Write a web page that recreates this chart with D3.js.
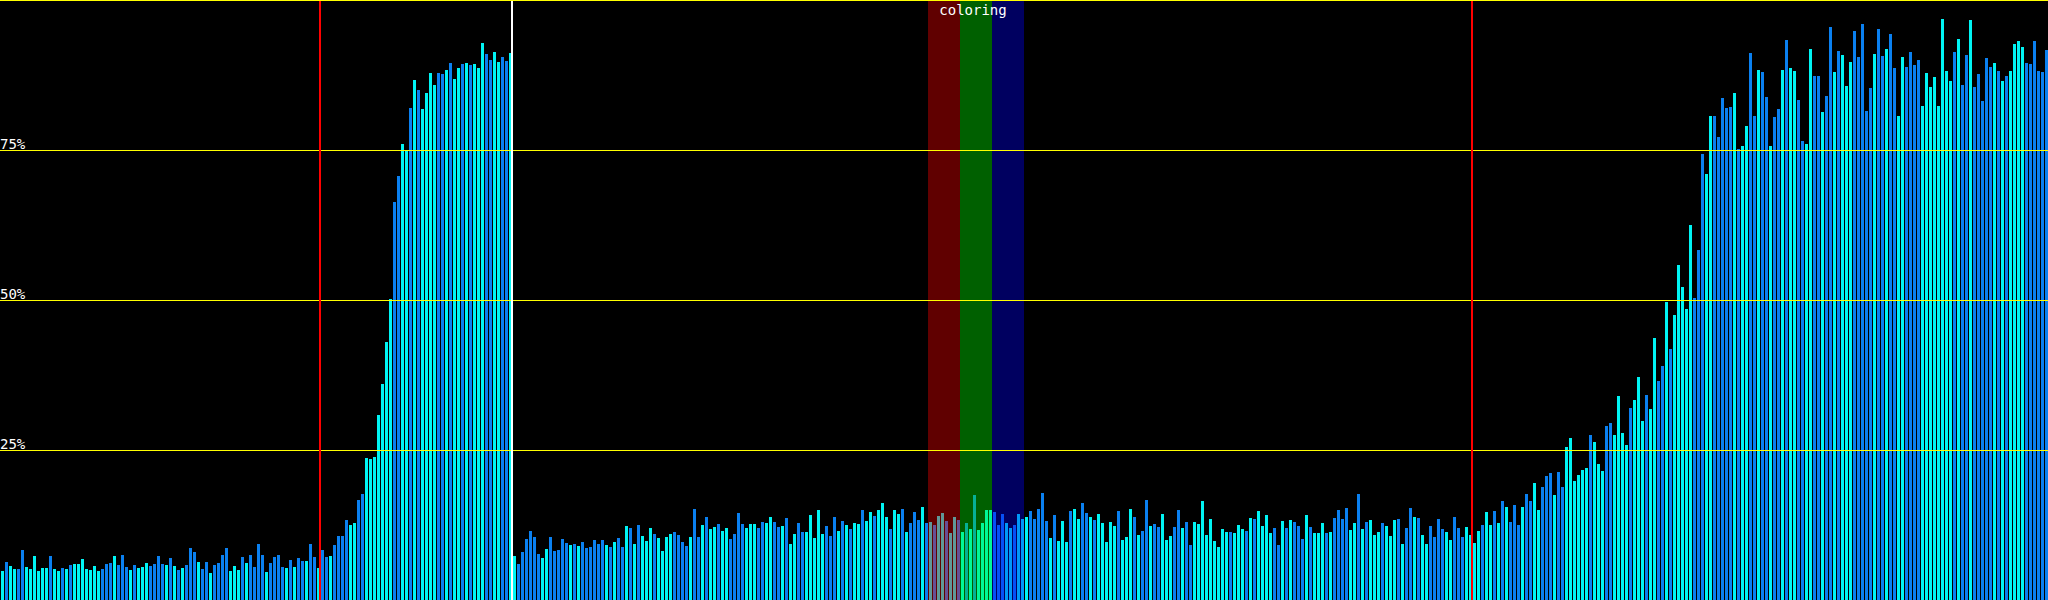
<!DOCTYPE html>
<html>
<head>
<meta charset="utf-8">
<script src="https://cdn.jsdelivr.net/npm/d3@7"></script>
<style>
  html, body { margin: 0; padding: 0; background: #000; }
  svg { display: block; }
</style>
</head>
<body>
<div id="chart"></div>
<script>
// per-bar load (%) in three stretches split by the marker lines
const loadStart = [
  4.8, 6.3, 5.7, 5.2, 5.2, 8.3, 5.5, 5.2, 7.3, 4.8,
  5.3, 5.3, 7.3, 5.2, 4.8, 5.3, 5.2, 5.8, 6.0, 6.0,
  6.8, 5.2, 5.0, 5.7, 4.8, 5.2, 6.0, 6.2, 7.3, 5.8,
  7.5, 5.5, 5.0, 5.8, 5.3, 5.5, 6.2, 5.7, 6.0, 7.3,
  6.0, 5.8, 7.0, 5.7, 5.0, 5.3, 5.8, 8.7, 8.0, 6.3,
  5.2, 6.3, 4.5, 5.8, 6.2, 7.5, 8.7, 4.8, 5.7, 5.0,
  7.2, 6.2, 7.5, 5.5, 9.3, 7.5, 4.7, 6.2, 7.2, 7.5,
  5.5, 5.3, 6.7, 5.5, 7.0, 6.5, 6.5, 9.3, 7.2, 5.3,
  8.3, 7.2, 7.3, 9.2, 10.7, 10.7, 13.3, 12.5, 12.8, 16.7,
  17.7, 23.7, 23.5, 23.8, 30.8, 36.0, 43.0, 50.2, 66.3, 70.7,
  76.0, 75.0, 82.0, 86.7, 85.0, 81.8, 84.5, 87.8, 85.8, 87.8,
  87.7, 88.3, 89.5, 86.8, 88.7, 89.3, 89.5, 89.2, 89.3, 88.7,
  92.8, 91.0, 90.0, 91.3, 89.7, 90.5, 89.8, 91.2
];
const loadMiddle = [
  7.3, 6.0, 8.0, 10.2, 11.5, 10.5, 7.7, 7.0, 8.5, 10.5,
  8.2, 8.3, 10.2, 9.5, 9.2, 9.3, 9.0, 9.7, 8.7, 8.8,
  10.0, 9.3, 10.0, 9.2, 8.8, 9.7, 10.3, 8.8, 12.3, 12.0,
  9.3, 12.5, 10.7, 9.8, 12.0, 11.0, 10.3, 8.2, 10.5, 11.0,
  11.3, 10.8, 9.7, 9.0, 10.5, 15.2, 10.5, 12.5, 13.8, 11.8,
  12.2, 12.7, 11.5, 12.0, 10.2, 11.0, 14.5, 12.7, 12.0, 12.7,
  12.7, 12.0, 13.0, 12.8, 13.8, 13.0, 12.2, 12.3, 13.7, 9.3,
  11.0, 12.8, 11.3, 11.3, 14.2, 10.3, 15.0, 11.0, 12.3, 10.7,
  13.8, 11.5, 13.2, 12.5, 11.8, 12.8, 12.7, 15.0, 13.2, 14.7,
  14.0, 15.0, 16.2, 13.8, 11.8, 15.0, 14.3, 15.2, 11.3, 12.8,
  14.7, 13.3, 15.5, 12.8, 13.0, 12.5, 14.0, 14.5, 13.2, 11.2,
  13.8, 13.3, 11.3, 12.8, 11.8, 17.5, 11.7, 12.8, 15.0, 15.0,
  14.7, 12.5, 14.3, 12.8, 12.0, 12.5, 14.3, 13.5, 13.8, 14.8,
  13.5, 15.2, 17.8, 13.2, 10.3, 14.2, 9.8, 13.2, 9.7, 14.8,
  15.2, 13.5, 16.2, 14.5, 13.8, 13.3, 14.3, 12.8, 9.7, 13.0,
  12.3, 14.8, 10.0, 10.5, 15.2, 13.8, 10.8, 11.5, 16.7, 12.3,
  12.7, 12.2, 14.3, 10.0, 10.7, 12.2, 15.0, 12.0, 13.0, 9.2,
  13.0, 12.7, 16.5, 10.8, 13.5, 9.8, 8.8, 11.8, 11.3, 11.3,
  11.2, 12.5, 11.8, 11.5, 13.7, 13.5, 14.8, 12.3, 14.2, 11.2,
  12.0, 9.2, 13.2, 12.0, 13.3, 13.0, 12.3, 10.2, 14.2, 12.2,
  11.2, 11.2, 12.8, 11.2, 11.3, 13.7, 15.0, 13.5, 15.3, 11.7,
  12.8, 17.7, 11.8, 13.0, 13.3, 10.8, 11.3, 12.8, 12.3, 10.7,
  13.3, 13.5, 9.3, 12.0, 15.3, 13.8, 13.7, 10.8, 9.3, 12.3,
  10.5, 13.5, 11.8, 11.3, 10.0, 13.8, 12.0, 10.5, 12.2, 10.8
];
const loadEnd = [
  9.5, 11.5, 12.5, 14.7, 12.5, 14.8, 12.8, 16.5, 15.5, 13.0,
  15.8, 12.5, 15.5, 17.7, 16.5, 19.5, 15.0, 18.8, 20.7, 21.2,
  17.5, 21.3, 18.8, 25.5, 27.0, 19.8, 20.8, 21.7, 22.0, 27.5,
  26.3, 22.7, 21.5, 29.0, 29.5, 27.5, 34.0, 27.8, 25.8, 32.0,
  33.3, 37.2, 29.8, 34.2, 31.8, 43.7, 36.5, 39.0, 49.7, 41.8,
  47.5, 55.8, 52.2, 48.5, 62.5, 50.3, 58.3, 74.3, 71.0, 80.7,
  80.7, 77.2, 83.7, 82.0, 82.2, 84.5, 75.2, 75.7, 79.0, 91.2,
  80.7, 88.3, 88.0, 83.8, 75.7, 80.5, 81.8, 88.3, 93.3, 88.7,
  88.2, 83.3, 76.5, 76.0, 91.8, 87.3, 87.3, 81.3, 84.0, 95.5,
  88.0, 91.5, 90.8, 85.7, 89.7, 94.8, 90.5, 96.0, 81.5, 85.3,
  91.0, 95.2, 90.7, 91.8, 94.3, 88.7, 80.7, 90.5, 88.8, 91.3,
  89.2, 90.0, 82.3, 87.8, 85.5, 87.2, 82.3, 96.8, 88.2, 86.5,
  91.3, 93.5, 85.8, 90.8, 96.7, 85.5, 87.7, 83.2, 90.3, 88.8,
  89.5, 88.2, 86.5, 87.3, 88.2, 92.7, 93.2, 92.2, 89.5, 89.3,
  93.2, 88.2, 88.0, 91.7
];

// bar shade per bar: c = cyan, b = blue
const shadeStart = [
  "cbccbbcccc", "ccbccbcbcc", "cccccbbbcb", "bbcbcccbbb", "bcbcbcbbbc",
  "bbcbbbbccc", "bcbbbbcbbb", "bcbcbbcbbc", "bbcbbbbccb", "bcccccccbb",
  "ccbcbccccb", "bcbccbcbcc", "cbbccbbc"
];
const shadeMiddle = [
  "cbbbbbbccb", "bbbbcbcbbb", "bbbcbcbbcb", "cbcccbcccc", "bbbbcbbcbc",
  "cbccbbbbcc", "cbbccbbcbc", "cbbcccccbb", "bcbcbccbcc", "bcccbccbcb",
  "bbcbcbccbc", "cbcbcbcccc", "bbbccbcccb", "bbbbcbcccb", "ccbbcbcccc",
  "cbcccbcbbc", "bbcccbbcbb", "cccccccccb", "cccbcbcccc", "bbcbcbbbcb",
  "cccbcbbbbc", "cbcbcccbcc", "cbcbbcbccb", "bbbccbbbcc"
];
const shadeEnd = [
  "ccbccbcbcb", "bbcbbccbbb", "cbbccccccb", "cccbbccccb", "cccbccbbcb",
  "cccccbbbcc", "bbbbbcbccb", "bcbbcbbcbc", "cbbccbbcbb", "cbcccbbbbb",
  "cbbcbbccbb", "bbcccccccc", "bcbbcbbbbb", "cbcbccccbb", "bbbb"
];

const gridValues = [25, 50, 75, 100];
const gridLabels = ["25%", "50%", "75%"];
const markers = [
  { at: 80, color: "#ff0000" },
  { at: 128, color: "#ffffff" },
  { at: 368, color: "#ff0000" }
];
const bands = [
  { from: 232, to: 240, color: "#ff0000" },
  { from: 240, to: 248, color: "#00ff00" },
  { from: 248, to: 256, color: "#0000ff" }
];
const bandTitle = "coloring";

const width = 2048;
const height = 600;

const values = loadStart.concat(loadMiddle, loadEnd);
const shades = (shadeStart.join("") + shadeMiddle.join("") + shadeEnd.join("")).split("");
const bars = values.map((v, i) => ({ i: i, v: v, s: shades[i] || "c" }));

const x = d3.scaleLinear().domain([0, values.length]).range([0, width]);
const y = d3.scaleLinear().domain([0, 100]).range([height, 0]);
const shadeColor = d3.scaleOrdinal().domain(["c", "b"]).range(["#00f4f4", "#0a80f0"]);

const svg = d3
  .select("#chart")
  .append("svg")
  .attr("width", width)
  .attr("height", height)
  .attr("viewBox", [0, 0, width, height]);

svg.append("rect").attr("width", width).attr("height", height).attr("fill", "#000");

svg
  .append("g")
  .attr("shape-rendering", "crispEdges")
  .selectAll("rect")
  .data(bars)
  .join("rect")
  .attr("x", (d) => x(d.i) + 1)
  .attr("width", x(1) - x(0) - 1)
  .attr("y", (d) => Math.round(y(d.v)))
  .attr("height", (d) => height - Math.round(y(d.v)))
  .attr("fill", (d) => shadeColor(d.s));

// translucent highlight bands over the bars
svg
  .append("g")
  .attr("shape-rendering", "crispEdges")
  .selectAll("rect")
  .data(bands)
  .join("rect")
  .attr("x", (d) => x(d.from))
  .attr("width", (d) => x(d.to) - x(d.from))
  .attr("y", 0)
  .attr("height", height)
  .attr("fill", (d) => d.color)
  .attr("fill-opacity", 0.375);

svg
  .append("g")
  .attr("shape-rendering", "crispEdges")
  .selectAll("line")
  .data(gridValues)
  .join("line")
  .attr("x1", 0)
  .attr("x2", width)
  .attr("y1", (d) => Math.min(y(d), height - 1) + 0.5)
  .attr("y2", (d) => Math.min(y(d), height - 1) + 0.5)
  .attr("stroke", "#ffff00")
  .attr("stroke-width", 1);

svg
  .append("g")
  .attr("shape-rendering", "crispEdges")
  .selectAll("line")
  .data(markers)
  .join("line")
  .attr("x1", (d) => x(d.at))
  .attr("x2", (d) => x(d.at))
  .attr("y1", 1)
  .attr("y2", height)
  .attr("stroke", (d) => d.color)
  .attr("stroke-width", 2);

svg
  .append("g")
  .selectAll("text")
  .data([25, 50, 75])
  .join("text")
  .attr("x", 0)
  .attr("y", (d) => y(d) - 1)
  .attr("fill", "#fff")
  .attr("font-family", "DejaVu Sans Mono")
  .attr("font-size", 14)
  .text((d, i) => gridLabels[i]);

svg
  .append("text")
  .attr("x", (x(bands[0].from) + x(bands[2].to)) / 2 - 3)
  .attr("y", 15)
  .attr("text-anchor", "middle")
  .attr("fill", "#fff")
  .attr("font-family", "DejaVu Sans Mono")
  .attr("font-size", 14)
  .text(bandTitle);
</script>
</body>
</html>
